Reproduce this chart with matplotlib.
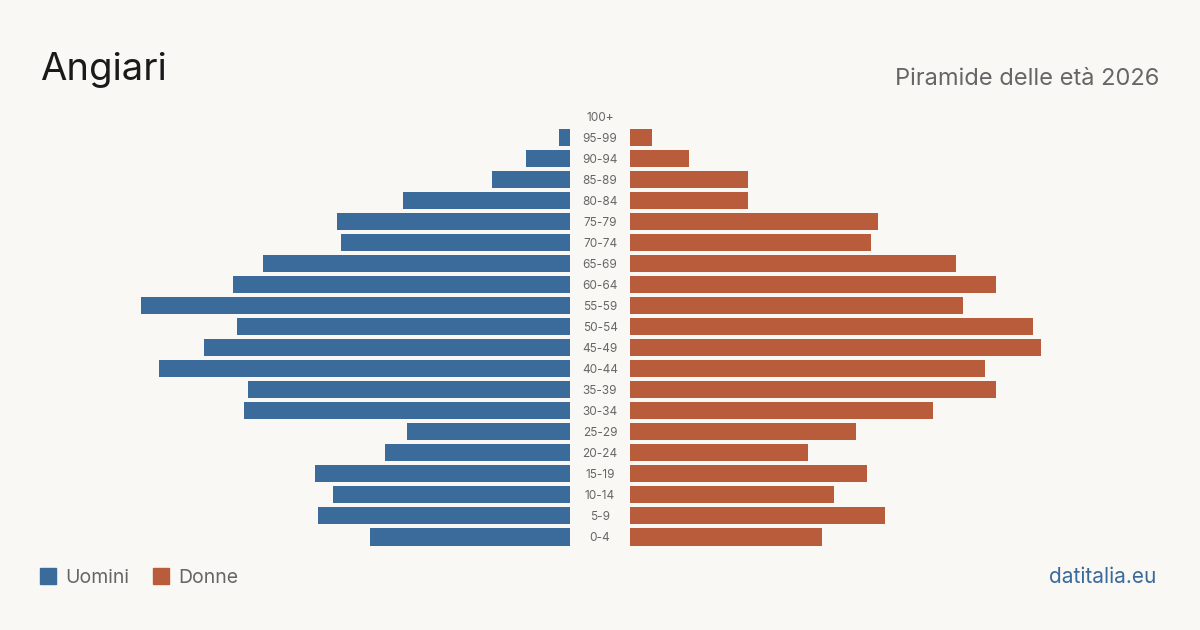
import matplotlib.pyplot as plt
import matplotlib.transforms as mtransforms
from matplotlib.patches import Rectangle

plt.rcParams['font.family'] = ['Inter', 'DejaVu Sans']

# age bands, bottom to top
fasce = ['0-4', '5-9', '10-14', '15-19', '20-24', '25-29', '30-34', '35-39',
         '40-44', '45-49', '50-54', '55-59', '60-64', '65-69', '70-74',
         '75-79', '80-84', '85-89', '90-94', '95-99', '100+']
uomini = [54, 68, 64, 69, 50, 44, 88, 87, 111, 99, 90, 116, 91, 83, 62,
          63, 45, 21, 12, 3, 0]
donne = [52, 69, 55, 64, 48, 61, 82, 99, 96, 111, 109, 90, 99, 88, 65,
         67, 32, 32, 16, 6, 0]

BLU = '#3b6b9b'
ROSSO = '#b95c3c'
SFONDO = '#f9f8f4'
GRIGIO = '#666666'

W, H = 1200, 630
fig = plt.figure(figsize=(12, 6.3), dpi=100, facecolor=SFONDO)

# pixel helpers
def fx(px):
    return px / W

def fy(py):
    return 1 - py / H

bottom = fy(547.5)
height = fy(105.5) - bottom
scala = 127.0  # units across 470 px

ax_l = fig.add_axes([fx(100), bottom, fx(470), height])
ax_r = fig.add_axes([fx(630), bottom, fx(470), height])

y = list(range(len(fasce)))
ax_l.barh(y, uomini, height=0.81, color=BLU)
ax_r.barh(y, donne, height=0.81, color=ROSSO)
ax_l.set_xlim(scala, 0)
ax_r.set_xlim(0, scala)
for ax in (ax_l, ax_r):
    ax.set_ylim(-0.5, len(fasce) - 0.5)
    ax.axis('off')
    ax.set_facecolor('none')

# age labels in the centre gap
trans = mtransforms.blended_transform_factory(fig.transFigure, ax_l.transData)
trans = trans + mtransforms.ScaledTranslation(0, -1.5 / 100, fig.dpi_scale_trans)
for i, f in enumerate(fasce):
    ax_l.text(0.5, i, f, transform=trans, ha='center', va='center',
              fontsize=8.5, color=GRIGIO, clip_on=False)

fig.text(fx(40), fy(80), 'Angiari', fontsize=27.5, color='#1a1a1a',
         ha='left', va='baseline')
fig.text(fx(1159), fy(85), 'Piramide delle età 2026', fontsize=17,
         color=GRIGIO, ha='right', va='baseline')

# legend
for x0, col, lab in [(40, BLU, 'Uomini'), (153, ROSSO, 'Donne')]:
    fig.patches.append(Rectangle((fx(x0), fy(584)), fx(16), 16 / H,
                                 transform=fig.transFigure, color=col))
    fig.text(fx(x0 + 25), fy(583), lab, fontsize=14, color=GRIGIO,
             ha='left', va='baseline')

fig.text(fx(1156), fy(583), 'datitalia.eu', fontsize=15, color='#3a6a9c',
         ha='right', va='baseline')

fig.savefig('out.png', dpi=100, facecolor=SFONDO)
